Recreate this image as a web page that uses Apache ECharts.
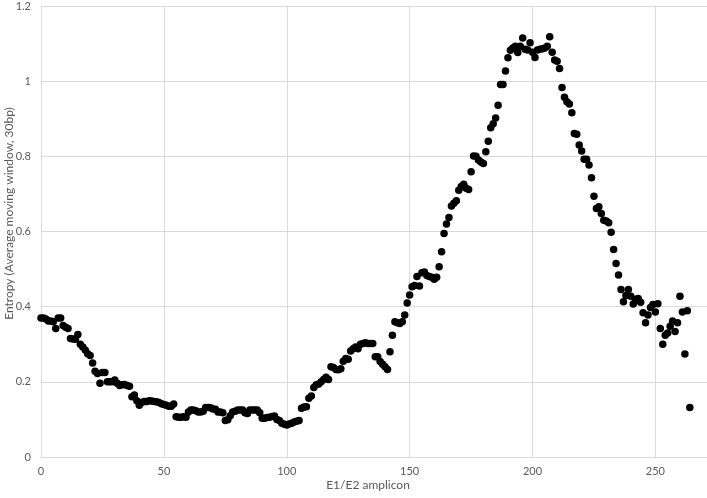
<!DOCTYPE html>
<html>
<head>
<meta charset="utf-8">
<script src="https://cdn.jsdelivr.net/npm/echarts@6/dist/echarts.min.js"></script>
<style>
  html, body { margin: 0; padding: 0; background: #fff; }
  #main { width: 707px; height: 498px; }
</style>
</head>
<body>
<div id="main"></div>
<script>
// entropy per amplicon position, starting at position 0
let entropy = [
  0.370, 0.370, 0.367, 0.362, 0.362, 0.360, 0.342, 0.370, 0.370, 0.350,
  0.345, 0.342, 0.315, 0.314, 0.313, 0.326, 0.300, 0.293, 0.285, 0.275,
  0.270, 0.250, 0.228, 0.222, 0.196, 0.225, 0.225, 0.200, 0.200, 0.200,
  0.205, 0.196, 0.190, 0.192, 0.193, 0.190, 0.188, 0.160, 0.165, 0.150,
  0.138, 0.145, 0.148, 0.148, 0.150, 0.149, 0.148, 0.147, 0.145, 0.142,
  0.140, 0.138, 0.135, 0.135, 0.141, 0.107, 0.106, 0.106, 0.107, 0.106,
  0.120, 0.125, 0.125, 0.123, 0.120, 0.120, 0.122, 0.132, 0.132, 0.131,
  0.128, 0.127, 0.120, 0.120, 0.118, 0.097, 0.099, 0.110, 0.120, 0.122,
  0.125, 0.125, 0.125, 0.118, 0.116, 0.125, 0.125, 0.125, 0.125, 0.118,
  0.103, 0.103, 0.105, 0.106, 0.108, 0.109, 0.100, 0.097, 0.090, 0.087,
  0.085, 0.088, 0.090, 0.093, 0.095, 0.097, 0.130, 0.133, 0.134, 0.156,
  0.162, 0.185, 0.192, 0.194, 0.200, 0.206, 0.212, 0.206, 0.240, 0.238,
  0.233, 0.232, 0.235, 0.255, 0.262, 0.260, 0.282, 0.288, 0.293, 0.288,
  0.300, 0.302, 0.304, 0.302, 0.302, 0.302, 0.267, 0.267, 0.254, 0.247,
  0.240, 0.233, 0.280, 0.324, 0.360, 0.357, 0.355, 0.360, 0.378, 0.410,
  0.431, 0.453, 0.456, 0.480, 0.455, 0.490, 0.492, 0.483, 0.480, 0.478,
  0.473, 0.478, 0.506, 0.546, 0.595, 0.620, 0.637, 0.668, 0.675, 0.682,
  0.710, 0.720, 0.726, 0.715, 0.712, 0.759, 0.801, 0.800, 0.790, 0.785,
  0.781, 0.812, 0.840, 0.876, 0.887, 0.902, 0.936, 0.991, 0.991, 1.027,
  1.062, 1.082, 1.088, 1.093, 1.076, 1.093, 1.115, 1.085, 1.083, 1.102,
  1.077, 1.063, 1.083, 1.085, 1.086, 1.088, 1.093, 1.118, 1.077, 1.056,
  1.053, 1.034, 0.983, 0.957, 0.945, 0.939, 0.916, 0.861, 0.859, 0.830,
  0.814, 0.792, 0.792, 0.777, 0.743, 0.694, 0.661, 0.666, 0.648, 0.630,
  0.628, 0.623, 0.598, 0.552, 0.515, 0.484, 0.446, 0.413, 0.430, 0.446,
  0.428, 0.407, 0.420, 0.422, 0.412, 0.384, 0.357, 0.378, 0.398, 0.406,
  0.386, 0.408, 0.342, 0.300, 0.324, 0.330, 0.348, 0.362, 0.334, 0.357,
  0.428, 0.386, 0.274, 0.389, 0.132
]
let xTicks = [0, 50, 100, 150, 200, 250]
let yTicks = [0, 0.2, 0.4, 0.6, 0.8, 1, 1.2]

let points = entropy.map(function(v, i){ return [i, v] })

var myChart = echarts.init(document.getElementById('main'))

var labelStyle = { color: '#595959', fontSize: 11, fontFamily: 'Lato' }
var option = {
  animation: false,
  grid: { left: 41, right: 0, top: 6, bottom: 41, containLabel: false, outerBoundsMode: 'none' },
  xAxis: {
    type: 'value',
    min: xTicks[0],
    max: 271,
    interval: 50,
    name: 'E1/E2 amplicon',
    nameLocation: 'middle',
    nameGap: 22,
    nameMoveOverlap: false,
    nameTextStyle: { color: '#595959', fontSize: 12, fontFamily: 'Lato', padding: [0, 12, 0, 0] },
    axisLine: { show: true, lineStyle: { color: '#d9d9d9' } },
    axisTick: { show: false },
    axisLabel: Object.assign({ margin: 9, showMaxLabel: false }, labelStyle),
    splitLine: { show: true, lineStyle: { color: '#d9d9d9' } }
  },
  yAxis: {
    type: 'value',
    min: yTicks[0],
    max: yTicks[yTicks.length - 1],
    interval: 0.2,
    name: 'Entropy (Average moving window, 30bp)',
    nameLocation: 'middle',
    nameGap: 26,
    nameMoveOverlap: false,
    nameTextStyle: { color: '#595959', fontSize: 12, fontFamily: 'Lato', padding: [0, 0, 0, 36] },
    axisLine: { show: true, lineStyle: { color: '#d9d9d9' } },
    axisTick: { show: false },
    axisLabel: Object.assign({ margin: 10 }, labelStyle),
    splitLine: { show: true, lineStyle: { color: '#d9d9d9' } }
  },
  series: [{
    type: 'scatter',
    data: points,
    symbolSize: 7.5,
    itemStyle: { color: '#000', opacity: 1 }
  }]
}
myChart.setOption(option)
</script>
</body>
</html>
